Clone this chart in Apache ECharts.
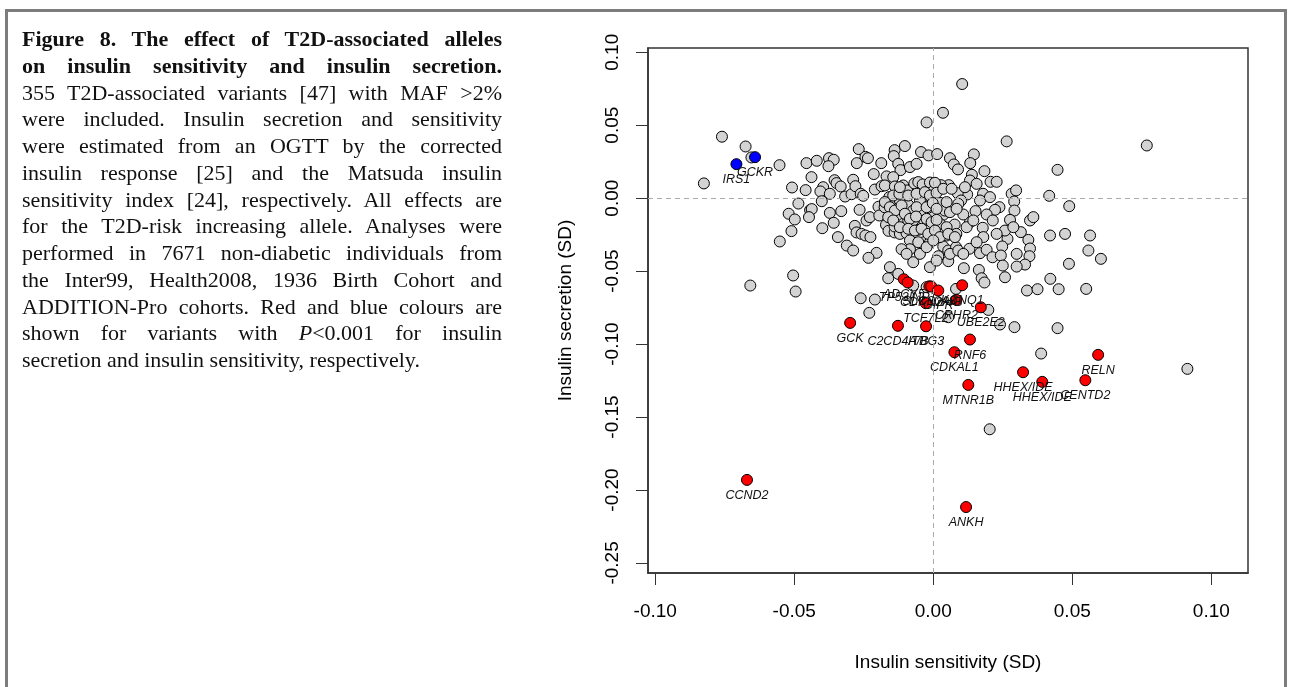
<!DOCTYPE html>
<html>
<head>
<meta charset="utf-8">
<script src="https://cdn.jsdelivr.net/npm/echarts@6/dist/echarts.min.js"></script>
<style>
  html, body { margin: 0; padding: 0; background: #fff; }
  #frame { position: absolute; left: 5px; top: 9px; width: 1276px; height: 700px;
           border: 3px solid #7d7d7d; border-bottom: none; }
  #chart { position: absolute; left: 0; top: 0; width: 1290px; height: 687px; }
  #caption { position: absolute; left: 22px; top: 26px; width: 480px;
             font-family: "Liberation Serif", "Times New Roman", serif; font-size: 22px;
             color: #111; }
  #caption div { height: 26.75px; line-height: 26.75px; white-space: nowrap;
                 text-align: justify; text-align-last: justify; }
  #caption div.b { font-weight: bold; }
  #caption div.last { text-align: left; text-align-last: left; }
</style>
</head>
<body>
<div id="frame"></div>
<div id="chart"></div>
<div id="caption">
  <div class="b">Figure 8. The effect of T2D-associated alleles</div>
  <div class="b">on insulin sensitivity and insulin secretion.</div>
  <div>355 T2D-associated variants [47] with MAF &gt;2%</div>
  <div>were included. Insulin secretion and sensitivity</div>
  <div>were estimated from an OGTT by the corrected</div>
  <div>insulin response [25] and the Matsuda insulin</div>
  <div>sensitivity index [24], respectively. All effects are</div>
  <div>for the T2D-risk increasing allele. Analyses were</div>
  <div>performed in 7671 non-diabetic individuals from</div>
  <div>the Inter99, Health2008, 1936 Birth Cohort and</div>
  <div>ADDITION-Pro cohorts. Red and blue colours are</div>
  <div>shown for variants with <i>P</i>&lt;0.001 for insulin</div>
  <div class="last">secretion and insulin sensitivity, respectively.</div>
</div>
<script>
// tick labels
const xTicks = [-0.10, -0.05, 0, 0.05, 0.10];
const yTicks = [-0.25, -0.20, -0.15, -0.10, -0.05, 0, 0.05, 0.10];

// variants without a significant effect (sensitivity, secretion)
const grayPoints = [
  [-0.0760, 0.0421], [-0.0675, 0.0354], [-0.0654, 0.0279], [-0.0825, 0.0101], [-0.0553, 0.0226],
  [-0.0508, 0.0073], [-0.0456, 0.0240], [-0.0419, 0.0256], [-0.0375, 0.0274], [-0.0358, 0.0263],
  [-0.0377, 0.0219], [-0.0438, 0.0144], [-0.0459, 0.0055], [-0.0485, -0.0037], [-0.0520, -0.0107],
  [-0.0498, -0.0146], [-0.0510, -0.0226], [-0.0552, -0.0297], [-0.0443, -0.0082], [-0.0437, -0.0075],
  [-0.0447, -0.0130], [-0.0396, 0.0075], [-0.0406, 0.0046], [-0.0372, 0.0030], [-0.0401, -0.0021],
  [-0.0399, -0.0206], [-0.0372, -0.0101], [-0.0358, -0.0169], [-0.0331, -0.0089], [-0.0343, -0.0267],
  [-0.0355, 0.0123], [-0.0348, 0.0103], [-0.0333, 0.0080], [-0.0317, 0.0011], [-0.0294, 0.0027],
  [-0.0288, 0.0126], [-0.0268, 0.0336], [-0.0275, 0.0240], [-0.0244, 0.0283], [-0.0235, 0.0274],
  [-0.0214, 0.0165], [-0.0187, 0.0240], [-0.0280, 0.0082], [-0.0261, 0.0030], [-0.0252, 0.0016],
  [-0.0265, -0.0080], [-0.0282, -0.0190], [-0.0276, -0.0235], [-0.0311, -0.0325], [-0.0288, -0.0359],
  [-0.0258, -0.0245], [-0.0240, -0.0153], [-0.0228, -0.0130], [-0.0244, -0.0256], [-0.0226, -0.0267],
  [-0.0204, -0.0375], [-0.0233, -0.0409], [-0.0197, -0.0059], [-0.0194, -0.0119], [-0.0210, 0.0059],
  [-0.0186, 0.0082], [-0.0168, 0.0149], [-0.0174, 0.0087], [-0.0158, 0.0007], [-0.0154, -0.0039],
  [-0.0175, -0.0062], [-0.0170, -0.0183], [-0.0161, -0.0224], [-0.0139, -0.0235], [-0.0139, -0.0194],
  [-0.0131, -0.0066], [-0.0118, -0.0128], [-0.0108, -0.0176], [-0.0090, -0.0153], [-0.0120, -0.0245],
  [-0.0096, -0.0240], [-0.0084, -0.0290], [-0.0102, 0.0357], [-0.0139, 0.0329], [-0.0142, 0.0288],
  [-0.0126, 0.0235], [-0.0118, 0.0192], [-0.0084, 0.0213], [-0.0060, 0.0235], [-0.0044, 0.0316],
  [-0.0017, 0.0293], [-0.0024, 0.0519], [-0.0144, 0.0144], [-0.0138, 0.0080], [-0.0108, 0.0087],
  [-0.0094, 0.0053], [-0.0068, 0.0101], [-0.0054, 0.0110], [-0.0038, 0.0094], [-0.0012, 0.0107],
  [-0.0120, -0.0016], [-0.0090, -0.0046], [-0.0072, -0.0085], [-0.0048, -0.0016], [-0.0036, -0.0096],
  [-0.0014, -0.0050], [0.0000, 0.0048], [0.0000, -0.0130], [-0.0078, -0.0187], [-0.0054, -0.0217],
  [-0.0034, -0.0302], [-0.0012, -0.0304], [-0.0012, -0.0473], [-0.0072, -0.0439], [-0.0048, -0.0382],
  [-0.0084, -0.0350], [-0.0114, -0.0350], [-0.0156, -0.0473], [-0.0162, -0.0549], [-0.0126, -0.0519],
  [-0.0072, -0.0599], [-0.0024, -0.0610], [-0.0261, -0.0686], [-0.0210, -0.0695], [-0.0230, -0.0786],
  [-0.0658, -0.0599], [-0.0504, -0.0530], [-0.0495, -0.0640], [-0.0032, -0.0153], [-0.0072, -0.0153],
  [-0.0144, 0.0018], [-0.0122, 0.0030], [-0.0090, 0.0018], [-0.0060, 0.0030], [-0.0030, 0.0041],
  [-0.0012, 0.0018], [-0.0174, -0.0027], [-0.0156, -0.0062], [-0.0138, -0.0085], [-0.0114, -0.0050],
  [-0.0060, -0.0062], [-0.0024, -0.0062], [-0.0162, -0.0130], [-0.0144, -0.0153], [-0.0102, -0.0107],
  [-0.0084, -0.0142], [-0.0062, -0.0126], [-0.0024, -0.0142], [-0.0006, -0.0165], [-0.0120, -0.0199],
  [-0.0090, -0.0210], [-0.0066, -0.0222], [-0.0042, -0.0210], [-0.0018, -0.0245], [-0.0054, -0.0302],
  [-0.0024, -0.0336], [-0.0096, -0.0382], [-0.0120, 0.0075],
  [0.0104, 0.0782], [0.0035, 0.0585], [0.0264, 0.0389], [0.0768, 0.0361], [0.0447, 0.0194],
  [0.0014, 0.0302], [0.0060, 0.0274], [0.0074, 0.0231], [0.0089, 0.0197], [0.0146, 0.0300],
  [0.0133, 0.0240], [0.0184, 0.0185], [0.0139, 0.0160], [0.0132, 0.0121], [0.0156, 0.0098],
  [0.0206, 0.0112], [0.0228, 0.0112], [0.0179, 0.0030], [0.0122, 0.0025], [0.0088, 0.0034],
  [0.0100, -0.0016], [0.0056, 0.0089], [0.0028, 0.0089], [0.0282, 0.0030], [0.0298, 0.0053],
  [0.0291, -0.0023], [0.0417, 0.0016], [0.0489, -0.0055], [0.0238, -0.0062], [0.0222, -0.0080],
  [0.0192, -0.0112], [0.0292, -0.0085], [0.0276, -0.0149], [0.0348, -0.0153], [0.0360, -0.0130],
  [0.0315, -0.0233], [0.0267, -0.0279], [0.0258, -0.0222], [0.0214, -0.0153], [0.0178, -0.0203],
  [0.0152, -0.0089], [0.0132, -0.0165], [0.0120, -0.0199], [0.0108, -0.0112], [0.0077, -0.0181],
  [0.0083, -0.0245], [0.0048, -0.0256], [0.0036, -0.0114], [0.0036, -0.0331], [0.0054, -0.0359],
  [0.0082, -0.0336], [0.0130, -0.0347], [0.0168, -0.0377], [0.0192, -0.0354], [0.0213, -0.0405],
  [0.0248, -0.0331], [0.0243, -0.0393], [0.0300, -0.0382], [0.0342, -0.0286], [0.0348, -0.0345],
  [0.0346, -0.0398], [0.0330, -0.0455], [0.0300, -0.0469], [0.0250, -0.0462], [0.0164, -0.0492],
  [0.0110, -0.0480], [0.0054, -0.0432], [0.0174, -0.0549], [0.0184, -0.0578], [0.0258, -0.0542],
  [0.0420, -0.0256], [0.0474, -0.0245], [0.0564, -0.0256], [0.0558, -0.0359], [0.0603, -0.0416],
  [0.0488, -0.0450], [0.0421, -0.0553], [0.0337, -0.0633], [0.0375, -0.0624], [0.0451, -0.0624],
  [0.0550, -0.0622], [0.0082, -0.0622], [0.0198, -0.0766], [0.0240, -0.0866], [0.0292, -0.0884],
  [0.0447, -0.0891], [0.0388, -0.1065], [0.0914, -0.1170], [0.0203, -0.1584], [0.0054, -0.0816],
  [0.0006, 0.0105], [0.0024, -0.0032], [0.0042, -0.0085], [0.0048, -0.0027], [0.0090, -0.0039],
  [0.0024, -0.0176], [0.0018, -0.0398], [0.0012, 0.0037], [0.0036, 0.0064], [0.0066, 0.0064],
  [-0.0002, -0.0034], [0.0012, -0.0073], [0.0060, -0.0096], [0.0084, -0.0073], [0.0012, -0.0149],
  [0.0048, -0.0199], [0.0006, -0.0222], [0.0024, -0.0267], [0.0054, -0.0245], [0.0078, -0.0267],
  [0.0000, -0.0290], [0.0060, -0.0382], [0.0090, -0.0359], [0.0012, -0.0428], [0.0114, 0.0075],
  [0.0168, -0.0016], [0.0204, 0.0007], [0.0144, -0.0153], [0.0180, -0.0267], [0.0228, -0.0245],
  [0.0288, -0.0199], [0.0156, -0.0302], [0.0108, -0.0382]
];

// P<0.001 for insulin secretion (red)
const redGenes = ["ADCY5", "TP53INP1", "SLC30A8", "CDKN2A/B", "GIPR", "KCNQ1", "CRHR2", "UBE2E2",
  "TCF7L2", "C2CD4A/B", "ITBG3", "GCK", "RNF6", "CDKAL1", "HHEX/IDE", "HHEX/IDE", "MTNR1B",
  "RELN", "CENTD2", "ANKH", "CCND2"];
const redX = [-0.0106, -0.0092, -0.0014, -0.0007, 0.0018, 0.0104, 0.0083, 0.0171,
  -0.0027, -0.0127, -0.0026, -0.0299, 0.0132, 0.0076, 0.0323, 0.0392, 0.0126,
  0.0593, 0.0547, 0.0118, -0.0670];
const redY = [-0.0556, -0.0578, -0.0604, -0.0606, -0.0633, -0.0597, -0.0697, -0.0748,
  -0.0720, -0.0875, -0.0878, -0.0855, -0.0969, -0.1056, -0.1193, -0.1259, -0.1280,
  -0.1074, -0.1248, -0.2117, -0.1931];

// P<0.001 for insulin sensitivity (blue)
const blueGenes = ["IRS1", "GCKR"];
const blueX = [-0.0708, -0.0641];
const blueY = [0.0233, 0.0281];

const labelStyle = {
  show: true, position: 'bottom', distance: 3, formatter: '{b}',
  fontFamily: 'Liberation Sans, Arial, sans-serif', fontStyle: 'italic',
  fontSize: 12.5, color: '#111'
};
const pts = (genes, xs, ys) => genes.map((g, i) => ({ name: g, value: [xs[i], ys[i]] }));

const chart = echarts.init(document.getElementById('chart'));
const axisFont = { fontFamily: 'Liberation Sans, Arial, sans-serif', fontSize: 19, color: '#000' };

chart.setOption({
  animation: false,
  grid: { left: 648, top: 48, width: 600, height: 525, show: true,
          borderColor: '#333', borderWidth: 1.5, backgroundColor: 'transparent' },
  xAxis: {
    type: 'value', min: -0.1026, max: 0.1132,
    name: 'Insulin sensitivity (SD)', nameLocation: 'middle', nameGap: 80,
    nameTextStyle: axisFont,
    axisLine: { show: true, onZero: false, lineStyle: { color: '#333', width: 1.5 } },
    axisTick: { show: true, customValues: xTicks, length: 12, lineStyle: { color: '#333', width: 1 } },
    axisLabel: Object.assign({ customValues: xTicks, margin: 29, formatter: v => v.toFixed(2) }, axisFont),
    splitLine: { show: false }
  },
  yAxis: {
    type: 'value', min: -0.2569, max: 0.1029,
    name: 'Insulin secretion (SD)', nameLocation: 'middle', nameGap: 73, nameRotate: 90,
    nameTextStyle: axisFont,
    axisLine: { show: true, onZero: false, lineStyle: { color: '#333', width: 1.5 } },
    axisTick: { show: true, customValues: yTicks, length: 12, lineStyle: { color: '#333', width: 1 } },
    axisLabel: Object.assign({ customValues: yTicks, margin: 26, rotate: 90, formatter: v => v.toFixed(2) }, axisFont),
    splitLine: { show: false }
  },
  series: [
    {
      type: 'scatter', data: grayPoints, symbolSize: 11, z: 2,
      itemStyle: { color: '#d3d3d3', borderColor: '#000', borderWidth: 1, opacity: 1 },
      markLine: {
        silent: true, symbol: 'none', label: { show: false },
        lineStyle: { type: [5, 4], color: '#aaaaaa', width: 1 },
        data: [{ xAxis: 0 }, { yAxis: 0 }]
      }
    },
    {
      type: 'scatter', data: pts(redGenes, redX, redY), symbolSize: 11, z: 3,
      itemStyle: { color: '#ff0000', borderColor: '#000', borderWidth: 1, opacity: 1 },
      label: labelStyle
    },
    {
      type: 'scatter', data: pts(blueGenes, blueX, blueY), symbolSize: 11, z: 3,
      itemStyle: { color: '#0000ff', borderColor: '#000', borderWidth: 1, opacity: 1 },
      label: labelStyle
    }
  ]
});
</script>
</body>
</html>
